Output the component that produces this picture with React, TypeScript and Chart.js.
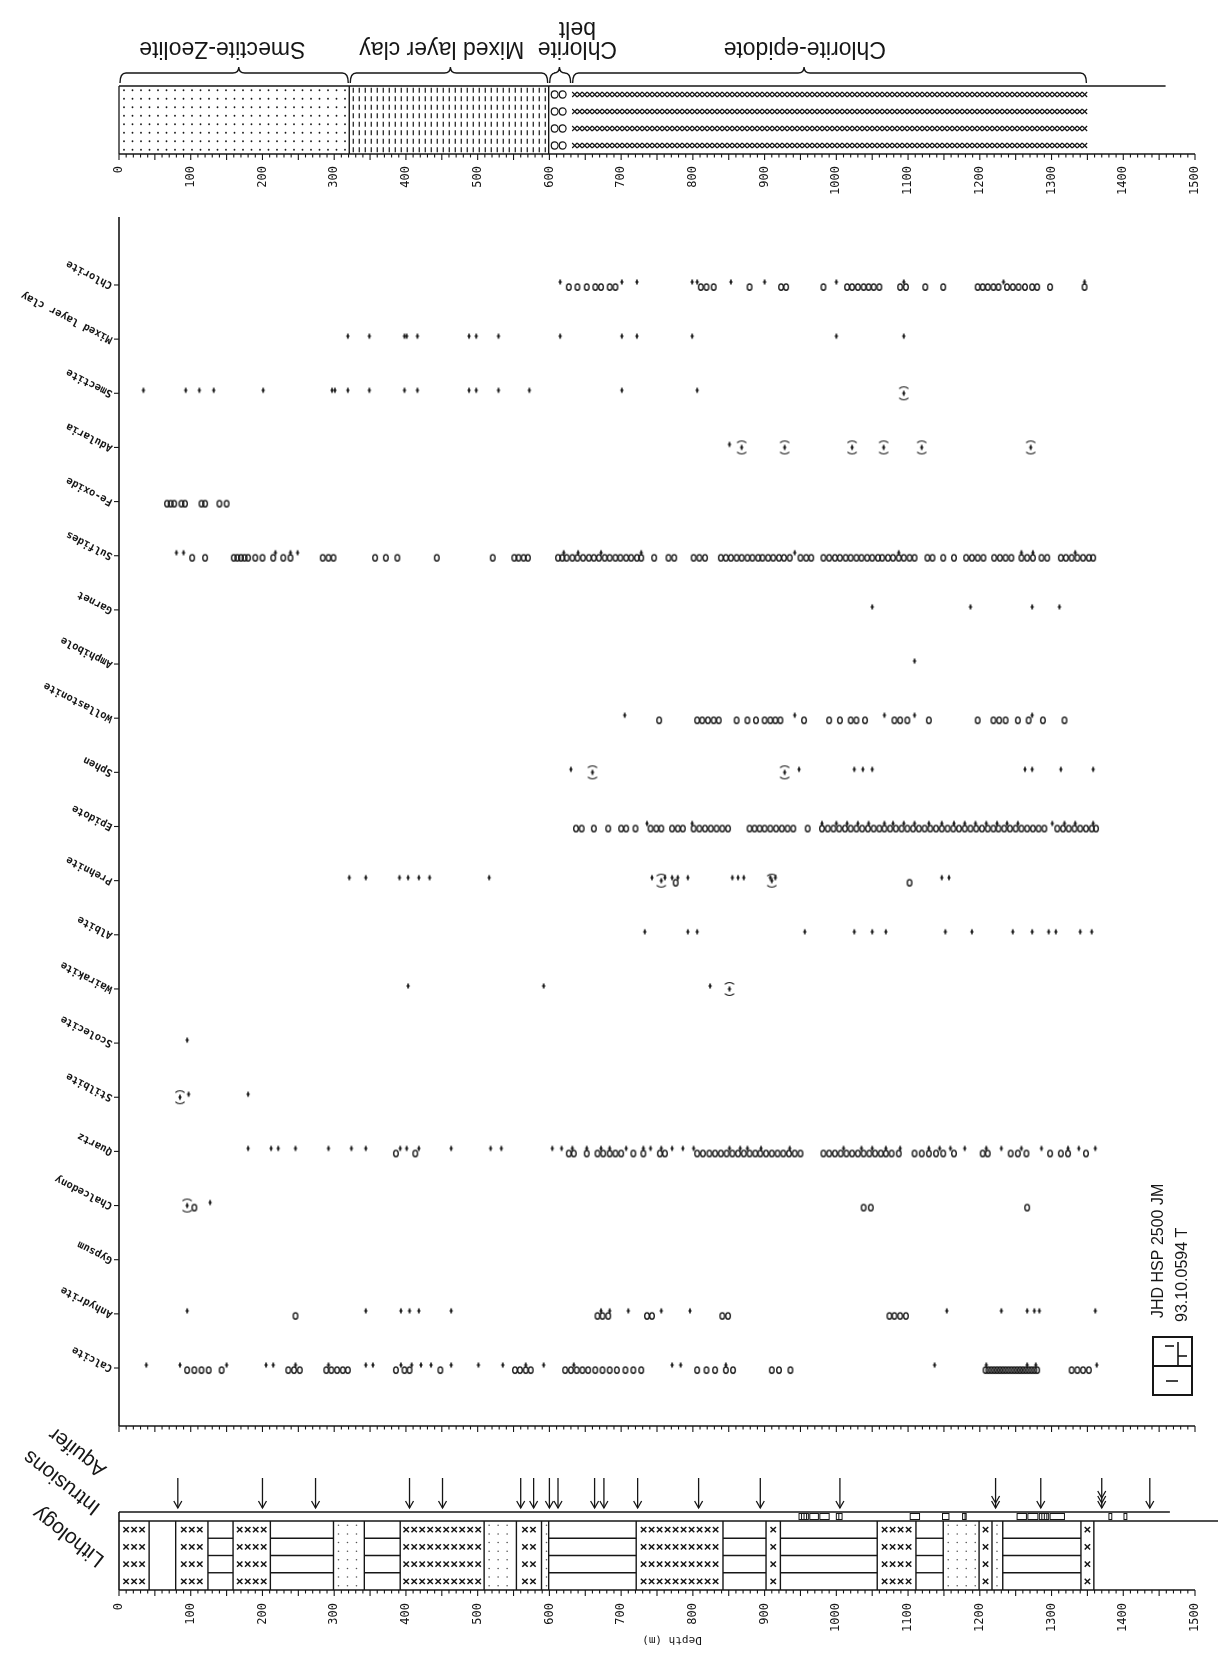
import React, { useEffect, useRef } from 'react';
import { Chart, registerables } from 'chart.js';
Chart.register(...registerables);

// ---------------- data ----------------
const minerals = ['Chlorite', 'Mixed layer clay', 'Smectite', 'Adularia', 'Fe-oxide', 'Sulfides', 'Garnet', 'Amphibole', 'Wollastonite', 'Sphen', 'Epidote', 'Prehnite', 'Albite', 'Wairakite', 'Scolecite', 'Stilbite', 'Quartz', 'Chalcedony', 'Gypsum', 'Anhydrite', 'Calcite'];
const depthTicks = [0, 100, 200, 300, 400, 500, 600, 700, 800, 900, 1000, 1100, 1200, 1300, 1400, 1500];

// alteration zones (top panel)
const zoneLabels = [['Smectite-Zeolite'], ['Mixed layer clay'], ['Chlorite', 'belt'], ['Chlorite-epidote']];
const zoneFrom = [0, 321, 599, 631];
const zoneTo = [321, 599, 631, 1350];
const zonePattern = ['dots', 'dashes', 'rings', 'crosses'];
const zoneBraceTip = [167, 462, 614, 955];
const zoneLabelAt = [144, 450, 639, 956];

// lithology column
const litBounds = [0, 42, 79, 124, 159, 211, 299, 342, 392, 509, 554, 589, 599, 721, 842, 902, 922, 1057, 1111, 1149, 1199, 1217, 1232, 1341, 1359];
const litPattern = ['x', 'blank', 'x', 'lines', 'x', 'lines', 'dots', 'lines', 'x', 'dots', 'x', 'dots', 'lines', 'x', 'lines', 'x', 'lines', 'x', 'lines', 'dots', 'x', 'dots', 'lines', 'x'];
const intrusionFrom = [948, 963, 977, 1000, 1103, 1148, 1176, 1252, 1267, 1283, 1298, 1380, 1401];
const intrusionTo = [961, 975, 990, 1008, 1116, 1157, 1181, 1265, 1281, 1296, 1318, 1384, 1405];
const aquiferDepth = [82, 200, 274, 405, 451, 560, 578, 600, 612, 663, 676, 723, 808, 894, 1005, 1222, 1285, 1370, 1437];
const aquiferHeads = [1, 1, 1, 1, 1, 1, 1, 1, 1, 1, 1, 1, 1, 1, 1, 2, 1, 3, 1];

// minerals: O = circle, X = cross, B = bracketed cross
const chloriteX = [615, 701, 722, 799, 806, 853, 900, 1000, 1094, 1233, 1346];
const chloriteO = [627, 639, 652, 664, 672, 684, 692, 811, 819, 829, 879, 923, 930, 982, 1015, 1022, 1030, 1038, 1045, 1052, 1060, 1089, 1097, 1124, 1149, 1197, 1204, 1211, 1219, 1226, 1238, 1246, 1254, 1263, 1273, 1280, 1298, 1346];
const mixedClayX = [319, 349, 398, 401, 416, 488, 498, 529, 615, 701, 722, 799, 1000, 1094];
const smectiteX = [34, 93, 112, 132, 201, 297, 301, 319, 349, 398, 416, 488, 498, 529, 572, 701, 806];
const smectiteB = [1094];
const adulariaX = [851];
const adulariaB = [868, 928, 1022, 1066, 1119, 1271];
const feOxideO = [67, 72, 77, 87, 92, 115, 120, 140, 150];
const sulfidesX = [80, 90, 218, 239, 249, 620, 640, 672, 728, 942, 1087, 1258, 1274, 1333];
const sulfidesO = [102, 120, 160, 165, 170, 175, 180, 190, 200, 215, 229, 239, 284, 292, 299, 357, 372, 388, 443, 521, 551, 557, 564, 570, 612, 618, 624, 632, 639, 647, 655, 662, 669, 677, 684, 692, 699, 707, 714, 722, 728, 746, 766, 774, 801, 809, 817, 839, 846, 853, 861, 868, 876, 883, 891, 897, 905, 912, 920, 927, 935, 950, 958, 965, 982, 990, 998, 1005, 1013, 1020, 1028, 1035, 1043, 1050, 1058, 1064, 1072, 1079, 1087, 1094, 1102, 1109, 1127, 1134, 1149, 1164, 1181, 1189, 1197, 1205, 1220, 1228, 1236, 1244, 1258, 1266, 1274, 1286, 1294, 1313, 1320, 1328, 1336, 1344, 1352, 1358];
const garnetX = [1050, 1187, 1273, 1311];
const amphiboleX = [1109];
const wollastoniteX = [705, 942, 1067, 1109, 1273];
const wollastoniteO = [753, 806, 813, 821, 829, 836, 861, 876, 888, 900, 908, 915, 922, 955, 990, 1005, 1020, 1028, 1040, 1081, 1089, 1099, 1129, 1197, 1219, 1227, 1236, 1253, 1268, 1288, 1318];
const sphenX = [630, 948, 1025, 1037, 1050, 1263, 1273, 1313, 1358];
const sphenB = [660, 928];
const epidoteX = [736, 799, 980, 1000, 1015, 1030, 1045, 1067, 1079, 1094, 1109, 1129, 1147, 1164, 1179, 1194, 1209, 1224, 1238, 1253, 1301, 1318, 1333, 1358];
const epidoteO = [637, 645, 662, 682, 700, 707, 720, 741, 749, 756, 771, 779, 786, 801, 809, 817, 825, 833, 841, 849, 879, 886, 893, 900, 908, 916, 924, 932, 940, 960, 980, 988, 996, 1004, 1012, 1020, 1028, 1036, 1044, 1052, 1060, 1067, 1075, 1083, 1091, 1099, 1107, 1115, 1123, 1131, 1139, 1147, 1155, 1163, 1171, 1179, 1187, 1195, 1203, 1211, 1219, 1226, 1234, 1242, 1250, 1258, 1266, 1274, 1282, 1290, 1308, 1316, 1324, 1332, 1340, 1348, 1356, 1362];
const prehniteX = [321, 344, 391, 403, 418, 433, 516, 743, 761, 771, 779, 793, 855, 863, 871, 908, 915, 1147, 1157];
const prehniteO = [776, 1102];
const prehniteB = [756, 910];
const albiteX = [733, 793, 806, 956, 1025, 1050, 1069, 1152, 1189, 1246, 1273, 1296, 1306, 1340, 1356];
const wairakiteX = [403, 592, 824];
const wairakiteB = [851];
const scoleciteX = [95];
const stilbiteX = [97, 180];
const stilbiteB = [85];
const quartzX = [180, 212, 222, 246, 292, 324, 344, 392, 401, 418, 463, 518, 533, 604, 617, 632, 652, 672, 684, 707, 731, 741, 756, 771, 786, 801, 851, 866, 876, 895, 935, 1010, 1035, 1050, 1069, 1089, 1129, 1144, 1159, 1179, 1209, 1230, 1258, 1286, 1323, 1338, 1361];
const quartzO = [386, 413, 627, 634, 652, 667, 675, 684, 692, 700, 717, 731, 754, 761, 806, 814, 823, 831, 839, 847, 855, 863, 871, 879, 887, 894, 902, 910, 918, 926, 934, 942, 950, 982, 990, 998, 1006, 1014, 1022, 1030, 1038, 1046, 1054, 1062, 1069, 1077, 1087, 1109, 1119, 1129, 1139, 1149, 1164, 1204, 1211, 1243, 1253, 1265, 1298, 1313, 1323, 1348];
const chalcedonyX = [127];
const chalcedonyO = [105, 1038, 1048, 1266];
const chalcedonyB = [95];
const anhydriteX = [95, 344, 393, 405, 418, 463, 672, 684, 710, 756, 796, 1154, 1230, 1266, 1276, 1283, 1361];
const anhydriteO = [246, 667, 674, 682, 736, 743, 841, 849, 1074, 1081, 1089, 1097];
const calciteX = [38, 85, 150, 205, 215, 246, 292, 344, 354, 393, 408, 421, 435, 463, 501, 535, 567, 592, 634, 771, 783, 846, 1137, 1209, 1266, 1278, 1363];
const calciteO = [95, 105, 115, 125, 143, 236, 244, 252, 289, 296, 304, 312, 319, 386, 398, 405, 448, 552, 559, 567, 574, 622, 630, 638, 646, 654, 664, 674, 684, 694, 706, 717, 728, 806, 819, 831, 846, 856, 910, 920, 936, 1208, 1212, 1216, 1220, 1224, 1228, 1232, 1236, 1240, 1244, 1248, 1252, 1256, 1260, 1264, 1268, 1272, 1276, 1280, 1328, 1336, 1344, 1352];

const circleRows: number[][] = [chloriteO, [], [], [], feOxideO, sulfidesO, [], [], wollastoniteO, [], epidoteO, prehniteO, [], [], [], [], quartzO, chalcedonyO, [], anhydriteO, calciteO];
const crossRows: number[][] = [chloriteX, mixedClayX, smectiteX, adulariaX, [], sulfidesX, garnetX, amphiboleX, wollastoniteX, sphenX, epidoteX, prehniteX, albiteX, wairakiteX, scoleciteX, stilbiteX, quartzX, chalcedonyX, [], anhydriteX, calciteX];
const bracketRows: number[][] = [[], [], smectiteB, adulariaB, [], [], [], [], [], sphenB, [], prehniteB, [], wairakiteB, [], stilbiteB, [], chalcedonyB, [], [], []];

// ---------------- drawing helpers ----------------
const INK = '#161616';
const W = 1218;
const H = 1653;

function makeMarker(w: number, h: number, draw: (g: CanvasRenderingContext2D) => void) {
  const c = document.createElement('canvas');
  c.width = w;
  c.height = h;
  const g = c.getContext('2d') as CanvasRenderingContext2D;
  g.strokeStyle = INK;
  g.fillStyle = INK;
  draw(g);
  return c;
}

const toRows = (rows: number[][]) => rows.flatMap((arr, i) => arr.map((d) => ({ x: d, y: i })));

const panelsPlugin = {
  id: 'panels',
  beforeDraw(chart: any) {
    const ctx = chart.ctx;
    ctx.save();
    ctx.fillStyle = '#ffffff';
    ctx.fillRect(0, 0, chart.width, chart.height);
    ctx.restore();
  },
  afterDraw(chart: any) {
    const ctx: CanvasRenderingContext2D = chart.ctx;
    const ca = chart.chartArea;
    const xs = chart.scales.x;
    const ys = chart.scales.y;
    const X = (d: number) => xs.getPixelForValue(d);
    const line = (x1: number, y1: number, x2: number, y2: number) => {
      ctx.beginPath();
      ctx.moveTo(x1, y1);
      ctx.lineTo(x2, y2);
      ctx.stroke();
    };
    const depthAxis = (y: number, labelY: number | null) => {
      ctx.lineWidth = 1.6;
      line(X(0), y, X(1500), y);
      ctx.lineWidth = 1.1;
      for (let d = 0; d <= 1500; d += 10) {
        const len = d % 50 === 0 ? 6 : 3.5;
        line(X(d), y, X(d), y + len);
      }
      if (labelY !== null) {
        ctx.font = "12px 'DejaVu Sans Mono'";
        depthTicks.forEach((d) => {
          ctx.save();
          ctx.translate(X(d), labelY);
          ctx.rotate(-Math.PI / 2);
          ctx.textAlign = 'right';
          ctx.textBaseline = 'middle';
          ctx.fillText(String(d), 0, 0);
          ctx.restore();
        });
      }
    };
    const rotText = (t: string, x: number, y: number, ang: number, font: string, align: CanvasTextAlign = 'left') => {
      ctx.save();
      ctx.font = font;
      ctx.translate(x, y);
      ctx.rotate(ang);
      ctx.textAlign = align;
      ctx.textBaseline = 'middle';
      ctx.fillText(t, 0, 0);
      ctx.restore();
    };
    const xMark = (cx: number, cy: number, s: number) => {
      line(cx - s, cy - s, cx + s, cy + s);
      line(cx + s, cy - s, cx - s, cy + s);
    };

    ctx.save();
    ctx.strokeStyle = INK;
    ctx.fillStyle = INK;

    // ---------- main panel axes ----------
    ctx.lineWidth = 1.6;
    line(X(0), ca.top - 5, X(0), ca.bottom);
    ctx.lineWidth = 1.1;
    minerals.forEach((m, i) => {
      const y = ys.getPixelForValue(i);
      line(X(0) - 5, y, X(0), y);
      rotText(m, X(0) - 7, y + 1, Math.PI + 0.47, "bold 10.5px 'DejaVu Sans Mono'");
    });
    depthAxis(ca.bottom, null);

    // ---------- top panel: alteration zones ----------
    const tTop = 86;
    const tBot = 154;
    ctx.lineWidth = 1.6;
    line(X(0), tTop, X(1459), tTop);
    depthAxis(tBot, 166);
    ctx.lineWidth = 1.3;
    zoneFrom.forEach((a, i) => {
      const b = zoneTo[i];
      const xa = X(a);
      const xb = X(b);
      if (i < 3) line(xa, tTop, xa, tBot);
      const pat = zonePattern[i];
      ctx.lineWidth = 1;
      if (pat === 'dots') {
        for (let k = 0; k < 8; k++) {
          const y = tTop + 4.25 + k * 8.5;
          for (let x = xa + 5; x < xb - 2; x += 8.5) {
            ctx.beginPath();
            ctx.arc(x, y, 0.9, 0, Math.PI * 2);
            ctx.fill();
          }
        }
      } else if (pat === 'dashes') {
        ctx.lineWidth = 1.2;
        for (let k = 0; k < 8; k++) {
          const y = tTop + 4.25 + k * 8.5;
          for (let x = xa + 4; x < xb - 2; x += 6) line(x, y - 2.6, x, y + 2.6);
        }
      } else if (pat === 'rings') {
        ctx.lineWidth = 1.2;
        for (let k = 0; k < 4; k++) {
          const y = tTop + 8.5 + k * 17;
          [xa + 6, xa + 14].forEach((x) => {
            ctx.beginPath();
            ctx.ellipse(x, y, 3.4, 3.6, 0, 0, Math.PI * 2);
            ctx.stroke();
          });
        }
      } else if (pat === 'crosses') {
        ctx.lineWidth = 1.15;
        for (let k = 0; k < 4; k++) {
          const y = tTop + 8.5 + k * 17;
          for (let x = xa + 3; x < xb; x += 5) xMark(x, y, 2.5);
        }
      }
      ctx.lineWidth = 1.4;
      // brace
      const tip = X(zoneBraceTip[i]);
      const r = Math.min(6, (xb - xa) / 4);
      const yEnd = 83;
      const yBar = 73;
      const yTip = 67;
      ctx.beginPath();
      ctx.moveTo(xa + 1, yEnd);
      ctx.quadraticCurveTo(xa + 1, yBar, xa + 1 + r, yBar);
      ctx.lineTo(tip - r, yBar);
      ctx.quadraticCurveTo(tip, yBar, tip, yTip);
      ctx.quadraticCurveTo(tip, yBar, tip + r, yBar);
      ctx.lineTo(xb - 1 - r, yBar);
      ctx.quadraticCurveTo(xb - 1, yBar, xb - 1, yEnd);
      ctx.stroke();
      // label (upside down)
      zoneLabels[i].forEach((t, j) => {
        rotText(t, X(zoneLabelAt[i]), 48 - j * 20, Math.PI, "23px 'Liberation Sans'", 'center');
      });
    });

    // ---------- bottom panel: lithology / intrusions / aquifer ----------
    const iTop = 1512;
    const lTop = 1521;
    const lBot = 1590;
    const rowH = (lBot - lTop) / 4;
    ctx.lineWidth = 1.6;
    line(X(0), iTop, X(1465), iTop);
    line(X(0), lTop, W, lTop);
    line(X(0), iTop, X(0), lBot);
    depthAxis(lBot, 1603);
    // intrusions
    ctx.lineWidth = 1;
    intrusionFrom.forEach((a, i) => {
      const xa = X(a);
      const xb = X(intrusionTo[i]);
      ctx.strokeRect(xa, iTop + 1.5, xb - xa, lTop - iTop - 3);
      for (let x = xa + 2.5; x < xb - 1 && i % 3 === 0; x += 2.5) line(x, iTop + 2, x, lTop - 2);
    });
    // lithology segments
    litPattern.forEach((p, i) => {
      const xa = X(litBounds[i]);
      const xb = X(litBounds[i + 1]);
      ctx.lineWidth = 1.2;
      if (p === 'x') {
        ctx.lineWidth = 1.5;
        const n = Math.max(1, Math.floor((xb - xa - 3) / 8));
        const start = (xa + xb) / 2 - (n * 8) / 2 + 4;
        for (let r = 0; r < 4; r++) {
          const yc = lTop + rowH * (r + 0.5);
          for (let k = 0; k < n; k++) xMark(start + k * 8, yc, 2.7);
        }
      } else if (p === 'lines') {
        ctx.lineWidth = 1.4;
        for (let r = 1; r < 4; r++) line(xa, lTop + rowH * r, xb, lTop + rowH * r);
      } else if (p === 'dots') {
        ctx.fillStyle = '#555';
        for (let r = 0; r < 8; r++) {
          const yc = lTop + (rowH / 2) * (r + 0.5);
          for (let x = xa + 5; x < xb - 2; x += 9) {
            ctx.beginPath();
            ctx.arc(x, yc, 0.8, 0, Math.PI * 2);
            ctx.fill();
          }
        }
        ctx.fillStyle = INK;
      }
      ctx.lineWidth = 1.4;
      line(xb, lTop, xb, lBot);
    });
    // aquifer arrows
    ctx.lineWidth = 1.3;
    aquiferDepth.forEach((d, i) => {
      const x = X(d);
      line(x, 1478, x, 1508);
      for (let h = 0; h < aquiferHeads[i]; h++) {
        const yb = 1508 - h * 5;
        ctx.beginPath();
        ctx.moveTo(x - 4, yb - 7);
        ctx.lineTo(x, yb);
        ctx.lineTo(x + 4, yb - 7);
        ctx.stroke();
      }
    });
    // panel labels
    const lblFont = "21px 'Liberation Sans'";
    rotText('Aquifer', 104, 1472, Math.PI + 0.66, lblFont);
    rotText('Intrusions', 98, 1510, Math.PI + 0.66, lblFont);
    rotText('Lithology', 102, 1562, Math.PI + 0.66, lblFont);
    rotText('Depth (m)', 672, 1640, Math.PI, "11px 'DejaVu Sans Mono'", 'center');

    // ---------- JHD stamp ----------
    rotText('JHD HSP 2500 JM', 1159, 1318, -Math.PI / 2, "16px 'Liberation Sans'");
    rotText('93.10.0594 T', 1183, 1322, -Math.PI / 2, "16px 'Liberation Sans'");
    ctx.lineWidth = 2;
    ctx.strokeRect(1153, 1337, 39, 58);
    line(1153, 1366, 1192, 1366);
    ctx.lineWidth = 1.6;
    line(1165, 1346, 1174, 1346);
    line(1178, 1342, 1178, 1366);
    line(1178, 1356, 1187, 1356);
    line(1166, 1381, 1178, 1381);

    ctx.restore();
  },
};

export default function App() {
  const ref = useRef<HTMLCanvasElement | null>(null);
  useEffect(() => {
    document.body.style.margin = '0';
    const canvas = ref.current as HTMLCanvasElement;
    const circleImg = makeMarker(10, 16, (g) => {
      g.lineWidth = 1.35;
      g.beginPath();
      g.ellipse(5, 10, 2.3, 3.2, 0, 0, Math.PI * 2);
      g.stroke();
    });
    const crossImg = makeMarker(10, 16, (g) => {
      g.lineWidth = 1.6;
      g.beginPath();
      g.moveTo(5, 2.5);
      g.lineTo(5, 7.5);
      g.moveTo(3.5, 5);
      g.lineTo(6.5, 5);
      g.stroke();
    });
    const bracketImg = makeMarker(14, 22, (g) => {
      g.lineWidth = 1.2;
      g.beginPath();
      g.arc(7, 11, 6.5, Math.PI * 1.25, Math.PI * 1.75);
      g.stroke();
      g.beginPath();
      g.arc(7, 11, 6.5, Math.PI * 0.25, Math.PI * 0.75);
      g.stroke();
      g.lineWidth = 1.6;
      g.beginPath();
      g.moveTo(7, 8.5);
      g.lineTo(7, 13.5);
      g.moveTo(5.5, 11);
      g.lineTo(8.5, 11);
      g.stroke();
    });
    const chart = new Chart(canvas, {
      type: 'scatter',
      data: {
        datasets: [
          { label: 'o', data: toRows(circleRows), pointStyle: circleImg as any, pointRadius: 4 },
          { label: '+', data: toRows(crossRows), pointStyle: crossImg as any, pointRadius: 4 },
          { label: '(+)', data: toRows(bracketRows), pointStyle: bracketImg as any, pointRadius: 5 },
        ],
      },
      options: {
        animation: false,
        responsive: false,
        maintainAspectRatio: false,
        devicePixelRatio: 1,
        events: [],
        layout: { padding: { left: 119, right: 23, top: 222, bottom: 227 } },
        plugins: { legend: { display: false }, tooltip: { enabled: false } },
        scales: {
          x: { type: 'linear', min: 0, max: 1500, display: false },
          y: { type: 'linear', min: -1.163, max: 21.071, reverse: true, display: false },
        },
      },
      plugins: [panelsPlugin],
    });
    return () => chart.destroy();
  }, []);
  return (
    <div style={{ position: 'absolute', left: 0, top: 0, width: W, height: H, background: '#fff' }}>
      <canvas ref={ref} width={W} height={H} style={{ display: 'block', width: W, height: H }} />
    </div>
  );
}
